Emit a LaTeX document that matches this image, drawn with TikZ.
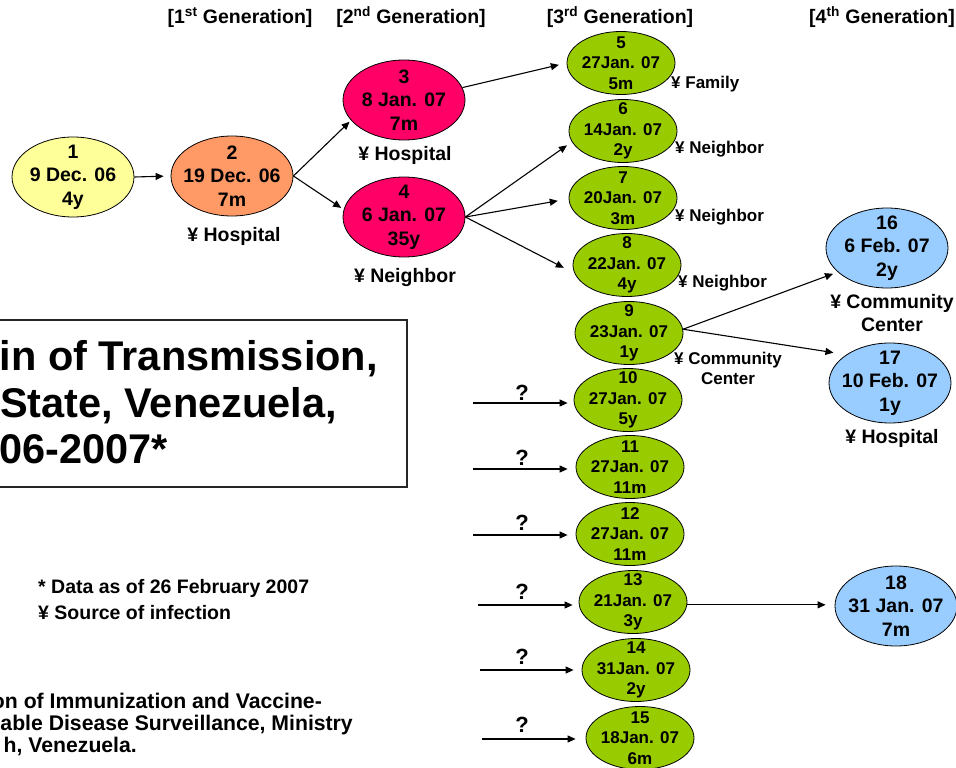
\documentclass[tikz,border=0pt]{standalone}
\usepackage{fontspec}
\setmainfont{Liberation Sans}
\usetikzlibrary{shapes.geometric,arrows.meta}
\definecolor{cyellow}{HTML}{FFFF99}
\definecolor{corange}{HTML}{FF9966}
\definecolor{cpink}{HTML}{FF0066}
\definecolor{cgreen}{HTML}{99CC00}
\definecolor{cblue}{HTML}{99CCFF}
\newcommand\casenode[5]{%
  \node[#2] (#1) at (#4) {};
  \node[#3] (#1t) at (#1) {#5};}
\begin{document}
\begin{tikzpicture}[x=1pt,y=-1pt,
  bigell/.style={ellipse,draw=black,line width=0.8pt,minimum width=122pt,minimum height=80pt,inner sep=0pt},
  smallell/.style={ellipse,draw=black,line width=0.8pt,fill=cgreen,minimum width=108pt,minimum height=63pt,inner sep=0pt},
  bigtxt/.style={align=center,font=\bfseries\fontsize{19.5}{23.5}\selectfont,inner sep=0pt},
  smalltxt/.style={align=center,font=\bfseries\fontsize{17}{20.5}\selectfont,inner sep=0pt},
  lbl/.style={font=\bfseries\fontsize{19.5}{23}\selectfont,inner sep=0pt,align=center},
  slbl/.style={font=\bfseries\fontsize{17}{20}\selectfont,inner sep=0pt,align=center},
  hdr/.style={font=\bfseries\fontsize{19.5}{23.5}\selectfont,inner sep=0pt,anchor=base},
  qm/.style={font=\bfseries\fontsize{22}{26}\selectfont,inner sep=0pt},
  ttl/.style={font=\bfseries\fontsize{41.5}{47}\selectfont,inner sep=0pt,anchor=base east},
  foot/.style={font=\bfseries\fontsize{19.5}{23}\selectfont,inner sep=0pt,anchor=base west},
  src/.style={font=\bfseries\fontsize{21.2}{23}\selectfont,inner sep=0pt,anchor=base east},
  arr/.style={-{Triangle[length=8pt,width=7pt]},line width=1.1pt},
  ]
\useasboundingbox (0,0) rectangle (956,768);
\clip (0,0) rectangle (956,768);

% headers
\node[hdr] (h1) at (240,24) {[1\textsuperscript{st} Generation]};
\node[hdr] (h2) at (411,24) {[2\textsuperscript{nd} Generation]};
\node[hdr] (h3) at (620,24) {[3\textsuperscript{rd} Generation]};
\node[hdr] (h4) at (882,24) {[4\textsuperscript{th} Generation]};

% big nodes
\casenode{n1}{bigell,fill=cyellow}{bigtxt}{73,177}{1\\9 Dec. 06\\4y}
\casenode{n2}{bigell,fill=corange}{bigtxt}{232,176}{2\\19 Dec. 06\\7m}
\casenode{n3}{bigell,fill=cpink}{bigtxt}{404,100}{3\\8 Jan. 07\\7m}
\casenode{n4}{bigell,fill=cpink}{bigtxt}{404,217}{4\\6 Jan. 07\\35y}
\casenode{n16}{bigell,fill=cblue}{bigtxt}{887,248}{16\\6 Feb. 07\\2y}
\casenode{n17}{bigell,fill=cblue}{bigtxt}{890,383}{17\\10 Feb. 07\\1y}
\casenode{n18}{bigell,fill=cblue}{bigtxt}{896,606}{18\\31 Jan. 07\\7m}

% green nodes
\casenode{n5}{smallell}{smalltxt}{621,63}{5\\27Jan. 07\\5m}
\casenode{n6}{smallell}{smalltxt}{623,131}{6\\14Jan. 07\\2y}
\casenode{n7}{smallell}{smalltxt}{623,198}{7\\20Jan. 07\\3m}
\casenode{n8}{smallell}{smalltxt}{627,265}{8\\22Jan. 07\\4y}
\casenode{n9}{smallell}{smalltxt}{629,333}{9\\23Jan. 07\\1y}
\casenode{n10}{smallell}{smalltxt}{628,400}{10\\27Jan. 07\\5y}
\casenode{n11}{smallell}{smalltxt}{630,467}{11\\27Jan. 07\\11m}
\casenode{n12}{smallell}{smalltxt}{630,534}{12\\27Jan. 07\\11m}
\casenode{n13}{smallell}{smalltxt}{633,602}{13\\21Jan. 07\\3y}
\casenode{n14}{smallell}{smalltxt}{636,670}{14\\31Jan. 07\\2y}
\casenode{n15}{smallell}{smalltxt}{640,738}{15\\18Jan. 07\\6m}

% source labels
\node[lbl] (l2) at (234,236) {¥ Hospital};
\node[lbl] (l3) at (405,155) {¥ Hospital};
\node[lbl] (l4) at (405,277) {¥ Neighbor};
\node[slbl,anchor=west] (l5) at (671,84) {¥ Family};
\node[slbl,anchor=west] (l6) at (675,149) {¥ Neighbor};
\node[slbl,anchor=west] (l7) at (675,217) {¥ Neighbor};
\node[slbl,anchor=west] (l8) at (678,283) {¥ Neighbor};
\node[slbl] (l9) at (728,368) {¥ Community\\Center};
\node[lbl] (l16) at (892,313) {¥ Community\\Center};
\node[lbl] (l17) at (892,438) {¥ Hospital};

% connectors
\draw[arr,shorten >=7pt] (n1.east) -- (n2.west);
\draw[arr,shorten >=2pt] (n2.east) -- (n3.201);
\draw[arr,shorten >=3pt] (n2.east) -- (n4.173);
\draw[arr,shorten >=8pt] (n3.12) -- (n5.west);
\draw[arr,shorten >=6pt] (n4.east) -- (n6.192);
\draw[arr,shorten >=11pt] (n4.east) -- (n7.181);
\draw[arr,shorten >=12pt] (n4.east) -- (n8.189);
\draw[arr,shorten >=5pt] (n9.4) -- (n16.206);
\draw[arr,shorten >=13pt] (n9.4) -- (n17.147);
\draw[arr,shorten >=9pt] (n13.-3) -- (n13.-3 -| n18.west);

% unknown sources
\coordinate (q10) at (473,403);
\coordinate (q11) at (473,469);
\coordinate (q12) at (473,535);
\coordinate (q13) at (478,605);
\coordinate (q14) at (480,670);
\coordinate (q15) at (482,739);
\draw[arr,shorten >=6pt] (q10) -- (q10 -| n10.west);
\draw[arr,shorten >=8pt] (q11) -- (q11 -| n11.west);
\draw[arr,shorten >=8pt] (q12) -- (q12 -| n12.west);
\draw[arr,shorten >=6pt] (q13) -- (q13 -| n13.west);
\draw[arr,shorten >=8pt] (q14) -- (q14 -| n14.west);
\draw[arr,shorten >=10pt] (q15) -- (q15 -| n15.west);
\node[qm] (m10) at (522,393) {?};
\node[qm] (m11) at (522,458) {?};
\node[qm] (m12) at (522,523) {?};
\node[qm] (m13) at (522,592) {?};
\node[qm] (m14) at (522,657) {?};
\node[qm] (m15) at (522,725) {?};

% title box
\node[draw=black!85,line width=1.4pt,minimum width=427pt,minimum height=167pt,inner sep=0pt] (titlebox) at (193.5,403.5) {};
\node[ttl] (t1) at (378,370) {in of Transmission,};
\node[ttl] (t2) at (337,417) {State, Venezuela,};
\node[ttl] (t3) at (168,463) {06-2007*};

% footnotes
\node[foot] (f1) at (38,593) {* Data as of 26 February 2007};
\node[foot] (f2) at (38,619) {¥ Source of infection};

% source text
\node[src] (s1) at (322,708) {on of Immunization and Vaccine-};
\node[src] (s2) at (353,730) {able Disease Surveillance, Ministry};
\node[src] (s3) at (137,752) {h, Venezuela.};
\end{tikzpicture}
\end{document}
